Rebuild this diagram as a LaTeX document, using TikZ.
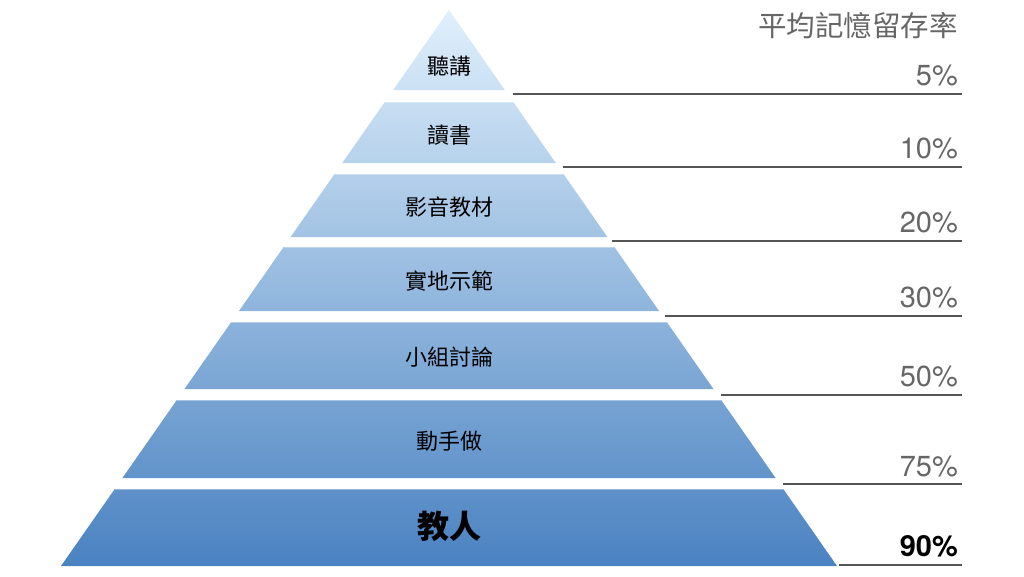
\documentclass[tikz,border=0pt]{standalone}
\usepackage{fontspec}
\setmainfont{Noto Sans CJK TC}
\newfontfamily\numfont{TeX Gyre Heros}
\definecolor{pyrtop}{HTML}{E0F0FC}
\definecolor{pyrmid}{HTML}{A2CAEE}
\definecolor{pyrbot}{HTML}{4A82C1}
\definecolor{rulegray}{HTML}{555555}
\definecolor{pctgray}{HTML}{666666}
\begin{document}
\begin{tikzpicture}[x=1pt,y=-1pt,
  layerlabel/.style={font=\fontsize{22}{22}\selectfont, text=black, inner sep=0pt},
  biglabel/.style={font=\bfseries\fontsize{32}{32}\selectfont, text=black, inner sep=0pt},
  pct/.style={font=\numfont\fontsize{29}{29}\selectfont, text=pctgray, anchor=base east, inner sep=0pt},
  pctbold/.style={font=\numfont\bfseries\fontsize{29}{29}\selectfont, text=black, anchor=base east, inner sep=0pt},
  titletext/.style={font=\fontsize{28.5}{28.5}\selectfont, text=pctgray, anchor=base east, inner sep=0pt},
  rule/.style={draw=rulegray, line width=1.4pt},
  highlight/.style={draw=white, draw opacity=0.35, line width=1pt}]
\useasboundingbox (0,0) rectangle (1024,576);
% layer corners
\foreach \t/\b/\n in {10/90/1,102/163/2,174/237/3,247/311/4,322/389/5,400/478/6,489/566/7}{
  \pgfmathsetmacro\wt{(\t-10)*0.69784}
  \pgfmathsetmacro\wb{(\b-10)*0.69784}
  \coordinate (L\n tl) at ({449-\wt},\t);
  \coordinate (L\n tr) at ({449+\wt},\t);
  \coordinate (L\n bl) at ({449-\wb},\b);
  \coordinate (L\n br) at ({449+\wb},\b);
}
\shade[top color=pyrtop, middle color=pyrmid, bottom color=pyrbot]
  \foreach \n in {1,...,7}{ (L\n tl) -- (L\n tr) -- (L\n br) -- (L\n bl) -- cycle };
\foreach \n in {2,...,7}{
  \draw[highlight] ([yshift=-0.5pt]L\n tl) -- ([yshift=-0.5pt]L\n tr);
}
% layer labels
\node[layerlabel] (lab1) at (449,66) {聽講};
\node[layerlabel] (lab2) at (449,135) {讀書};
\node[layerlabel] (lab3) at (449,207.5) {影音教材};
\node[layerlabel] (lab4) at (449,281) {實地示範};
\node[layerlabel] (lab5) at (449,357) {小組討論};
\node[layerlabel] (lab6) at (449,441) {動手做};
\node[biglabel] (lab7) at (449,526) {教人};
% title
\node[titletext] (title) at (958,36) {平均記憶留存率};
% rules and percentages
\foreach \y/\x/\n in {94/513/1,167/563/2,241/612/3,316/665/4,395/721/5,484/783/6,565/839/7}{
  \coordinate (r\n s) at (\x,\y);
  \coordinate (r\n e) at (962,\y);
  \draw[rule] (r\n s) -- (r\n e);
}
\node[pct] (p1) at (958,85.5) {5\%};
\node[pct] (p2) at (958,158.5) {10\%};
\node[pct] (p3) at (958,232.5) {20\%};
\node[pct] (p4) at (958,307.5) {30\%};
\node[pct] (p5) at (958,386.5) {50\%};
\node[pct] (p6) at (958,476) {75\%};
\node[pctbold] (p7) at (958,556.5) {90\%};
\end{tikzpicture}
\end{document}
